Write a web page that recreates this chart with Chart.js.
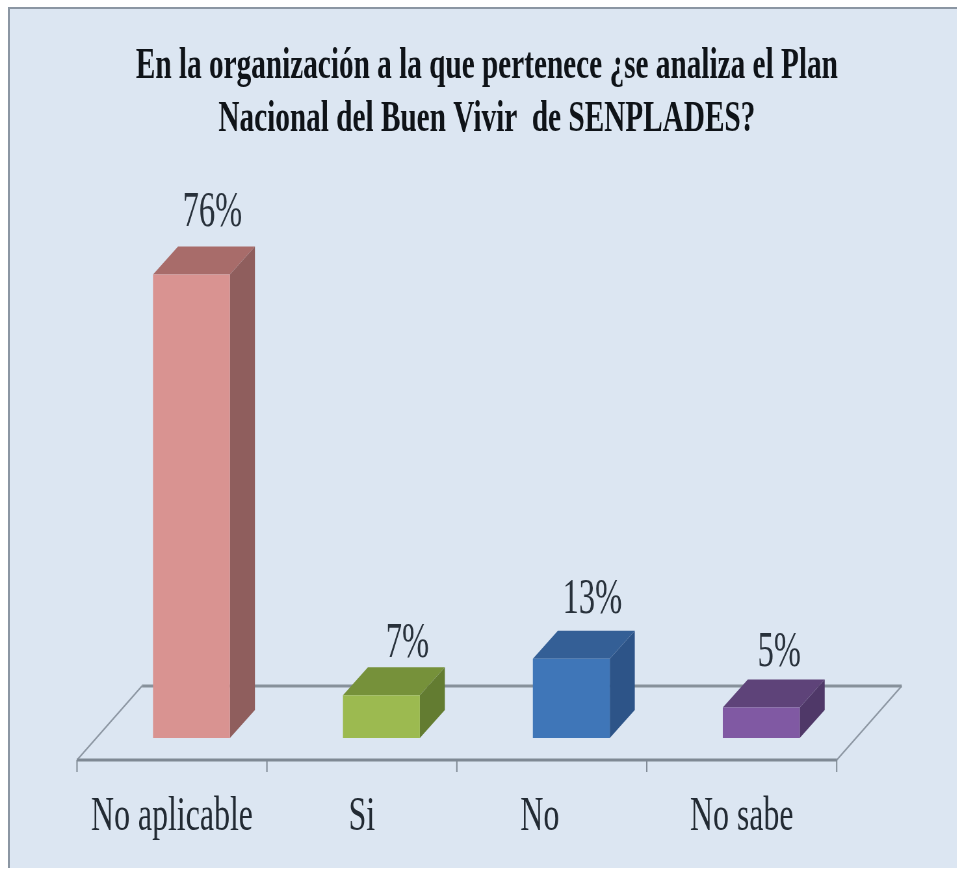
<!DOCTYPE html>
<html lang="es">
<head>
<meta charset="utf-8">
<title>Plan Nacional del Buen Vivir</title>
<script src="https://cdn.jsdelivr.net/npm/chart.js@4"></script>
<style>
  html, body { margin: 0; height: 100%; overflow: hidden; background: #ffffff; }
  #panel {
    position: absolute; left: 8px; top: 7px; right: 0; height: 859px;
    background: #dce6f2;
    border-left: 2px solid #8b96a3; border-top: 2px solid #8b96a3;
  }
  /* the original is squeezed sideways, text included */
  #chart { position: absolute; left: 0; top: 0; transform-origin: 0 0; transform: scaleX(0.65); }
</style>
</head>
<body>
<div id="panel"></div>
<canvas id="chart"></canvas>
<script>
const categories = ["No aplicable", "Si", "No", "No sabe"];
const percentages = [76, 7, 13, 5];
const titleLines = [
  "En la organización a la que pertenece ¿se analiza el Plan",
  "Nacional del Buen Vivir  de SENPLADES?"
];

const frontColors = ["#d99391", "#9cba50", "#3f76b8", "#8059a3"];
const topColors = ["#a86c6a", "#76913a", "#345f96", "#5e4379"];
const sideColors = ["#8f5e5d", "#637c31", "#2d5488", "#4f3868"];

// the value labels are not placed evenly in the original
const labelNudgeX = [0, 5, 0, -3];
const labelNudgeY = [-3, 8, 0, 4];

const squeeze = 0.65;
const sx = (px) => px / squeeze; // screen px to canvas units, x only

const depthX = sx(25);
const depthY = 28;

const canvas = document.getElementById("chart");
canvas.width = sx(974);
canvas.height = 869;

function polygon(ctx, points, color) {
  ctx.fillStyle = color;
  ctx.beginPath();
  points.forEach((p, i) => (i ? ctx.lineTo(p[0], p[1]) : ctx.moveTo(p[0], p[1])));
  ctx.closePath();
  ctx.fill();
}

function line(ctx, x1, y1, x2, y2, color, width) {
  ctx.strokeStyle = color;
  ctx.lineWidth = width;
  ctx.beginPath();
  ctx.moveTo(x1, y1);
  ctx.lineTo(x2, y2);
  ctx.stroke();
}

const floorAndDepth = {
  id: "floorAndDepth",
  beforeDatasetsDraw(chart) {
    const ctx = chart.ctx;
    const xScale = chart.scales.x;
    const base = chart.scales.y.getPixelForValue(0);
    const step = xScale.getPixelForValue(1) - xScale.getPixelForValue(0);
    const frontY = base + 22;
    const backY = base - 52;
    const left = xScale.left - sx(19.5);
    const right = left + step * categories.length;

    ctx.save();
    line(ctx, left, frontY, left + sx(65), backY, "#8d97a3", 2);
    line(ctx, right, frontY, right + sx(65), backY, "#8d97a3", 2);
    line(ctx, left + sx(65), backY, right + sx(65), backY, "#87919b", 3);
    line(ctx, left, frontY, right, frontY, "#7f8994", 3);
    categories.concat("").forEach((c, i) => {
      line(ctx, left + step * i, frontY, left + step * i, frontY + 12, "#7f8994", 2);
    });

    chart.getDatasetMeta(0).data.forEach((bar, i) => {
      const l = bar.x - bar.width / 2;
      const r = bar.x + bar.width / 2;
      polygon(ctx, [[l, bar.y], [r, bar.y], [r + depthX, bar.y - depthY], [l + depthX, bar.y - depthY]], topColors[i]);
      polygon(ctx, [[r, bar.y], [r + depthX, bar.y - depthY], [r + depthX, bar.base - depthY], [r, bar.base]], sideColors[i]);
    });
    ctx.restore();
  },
  afterDatasetsDraw(chart) {
    const ctx = chart.ctx;
    ctx.save();
    ctx.font = "50px 'Liberation Serif'";
    ctx.fillStyle = "#28313b";
    ctx.textAlign = "center";
    ctx.textBaseline = "middle";
    chart.getDatasetMeta(0).data.forEach((bar, i) => {
      const x = bar.x + sx(21 + labelNudgeX[i]);
      ctx.fillText(percentages[i] + "%", x, bar.y - depthY - 31 + labelNudgeY[i]);
    });
    ctx.restore();
  }
};

new Chart(canvas, {
  type: "bar",
  plugins: [floorAndDepth],
  data: {
    labels: categories,
    datasets: [{
      data: percentages,
      backgroundColor: frontColors,
      barPercentage: 0.405,
      categoryPercentage: 1
    }]
  },
  options: {
    responsive: false,
    animation: false,
    layout: { padding: 0 },
    plugins: {
      legend: { display: false },
      tooltip: { enabled: false },
      title: {
        display: true,
        text: titleLines,
        color: "#0f1318",
        font: { family: "'Liberation Serif'", size: 45, weight: "bold", lineHeight: 1.178 },
        padding: { top: 40, bottom: 104 }
      }
    },
    scales: {
      x: {
        grid: { display: false },
        border: { display: false },
        ticks: {
          color: "#222a33",
          font: { family: "'Liberation Serif'", size: 49 },
          padding: 42,
          labelOffset: -sx(19.5),
          maxRotation: 0,
          autoSkip: false,
          // trailing spaces nudge the third label left, as in the original
          callback: (value, i) => categories[i] + (i === 2 ? "   " : "")
        },
        afterFit(scale) { scale.height = 131; }
      },
      y: {
        min: 0,
        max: 80,
        grid: { display: false },
        border: { display: false },
        ticks: { display: false },
        afterFit(scale) { scale.width = sx(96.5); }
      },
      // empty axis, only reserves the room to the right of the floor
      yRight: {
        position: "right",
        grid: { display: false },
        border: { display: false },
        ticks: { display: false },
        afterFit(scale) { scale.width = sx(117.5); }
      }
    }
  }
});
</script>
</body>
</html>
